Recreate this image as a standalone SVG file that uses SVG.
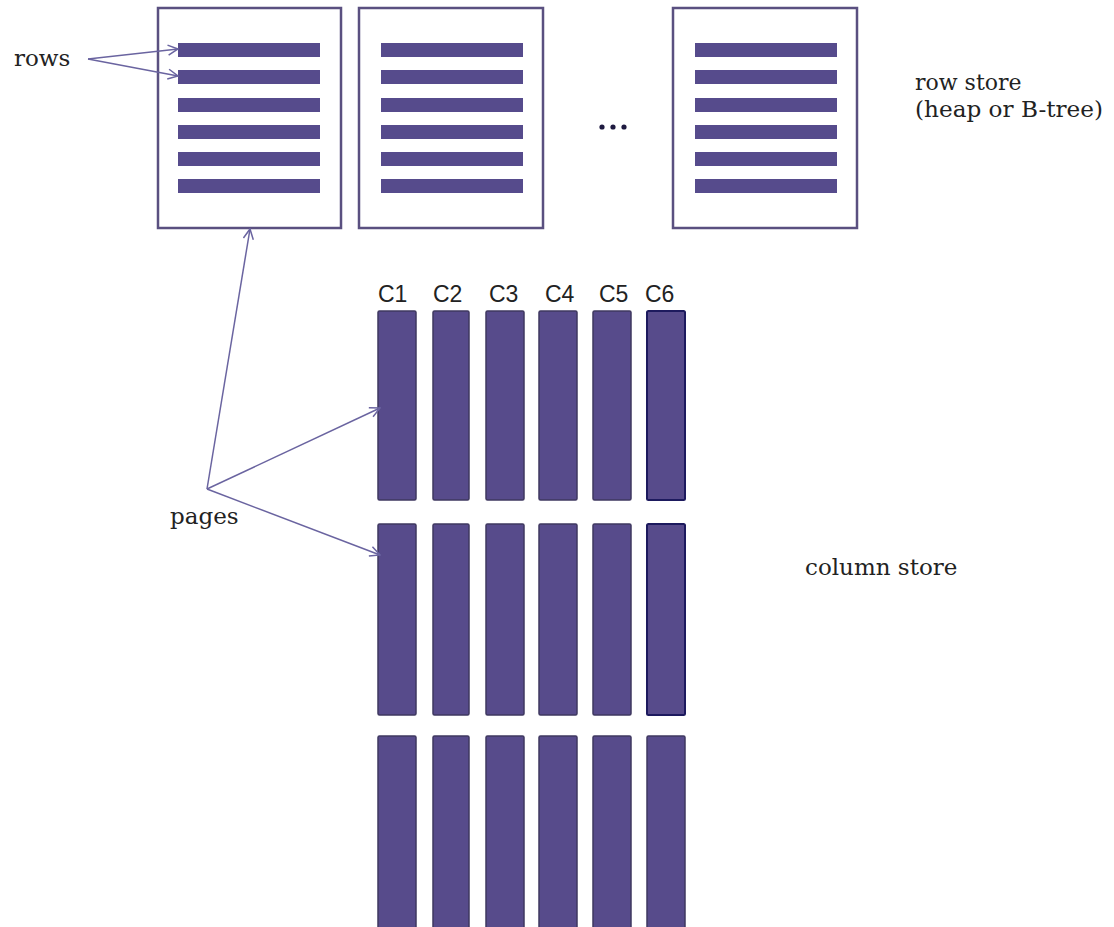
<svg xmlns="http://www.w3.org/2000/svg" width="1114" height="927" viewBox="0 0 1114 927">
<defs>
<style>
.page{fill:#fff;stroke:#5a5080;stroke-width:2.5}
.row{fill:#564b8c}
.col{fill:#574b8b;stroke:#3f3860;stroke-width:1.5}
.col6{fill:#574b8b;stroke:#1d1a5e;stroke-width:2}
.lbl{font-family:"DejaVu Serif",serif;font-size:23px;fill:#222}
.clbl{font-family:"Liberation Sans",Arial,sans-serif;font-size:23px;fill:#222}
.arr{fill:none;stroke:#6a64a0;stroke-width:1.5;marker-end:url(#chev)}
</style>
<marker id="chev" markerWidth="12" markerHeight="12" refX="11" refY="6" orient="auto" markerUnits="userSpaceOnUse">
<path d="M1,1 L11,6 L1,11" fill="none" stroke="#6a64a0" stroke-width="1.5"/>
</marker>
<g id="rowbars">
<rect class="row" x="0" y="43" width="142" height="14"/>
<rect class="row" x="0" y="70" width="142" height="14"/>
<rect class="row" x="0" y="98" width="142" height="14"/>
<rect class="row" x="0" y="125" width="142" height="14"/>
<rect class="row" x="0" y="152" width="142" height="14"/>
<rect class="row" x="0" y="179" width="142" height="14"/>
</g>
</defs>
<rect width="1114" height="927" fill="#fff"/>

<g id="page1">
<rect class="page" x="158" y="8" width="183" height="220"/>
<use href="#rowbars" x="178"/>
</g>
<g id="page2">
<rect class="page" x="359" y="8" width="184" height="220"/>
<use href="#rowbars" x="381"/>
</g>
<g id="ellipsis">
<circle cx="602" cy="127" r="2.6" fill="#1e1a40"/>
<circle cx="613" cy="127" r="2.6" fill="#1e1a40"/>
<circle cx="624" cy="127" r="2.6" fill="#1e1a40"/>
</g>
<g id="page3">
<rect class="page" x="673" y="8" width="184" height="220"/>
<use href="#rowbars" x="695"/>
</g>

<g id="row-store-label">
<text class="lbl" x="915" y="90" style="font-size:22px">row store</text>
<text class="lbl" x="915" y="117" style="font-size:22px" textLength="188" lengthAdjust="spacingAndGlyphs">(heap or B-tree)</text>
</g>
<g id="rows-label"><text class="lbl" x="14" y="66">rows</text></g>
<g id="pages-label"><text class="lbl" x="170" y="524">pages</text></g>
<g id="column-store-label"><text class="lbl" x="805" y="575">column store</text></g>

<g id="col-labels">
<text class="clbl" x="378" y="302">C1</text>
<text class="clbl" x="433" y="302">C2</text>
<text class="clbl" x="489" y="302">C3</text>
<text class="clbl" x="545" y="302">C4</text>
<text class="clbl" x="599" y="302">C5</text>
<text class="clbl" x="645" y="302">C6</text>
</g>

<g id="colpage1">
<rect class="col" x="378" y="311" width="38" height="189" rx="1.5"/>
<rect class="col" x="433" y="311" width="36" height="189" rx="1.5"/>
<rect class="col" x="486" y="311" width="38" height="189" rx="1.5"/>
<rect class="col" x="539" y="311" width="38" height="189" rx="1.5"/>
<rect class="col" x="593" y="311" width="38" height="189" rx="1.5"/>
<rect class="col6" x="647" y="311" width="38" height="189" rx="1.5"/>
</g>
<g id="colpage2">
<rect class="col" x="378" y="524" width="38" height="191" rx="1.5"/>
<rect class="col" x="433" y="524" width="36" height="191" rx="1.5"/>
<rect class="col" x="486" y="524" width="38" height="191" rx="1.5"/>
<rect class="col" x="539" y="524" width="38" height="191" rx="1.5"/>
<rect class="col" x="593" y="524" width="38" height="191" rx="1.5"/>
<rect class="col6" x="647" y="524" width="38" height="191" rx="1.5"/>
</g>
<g id="colpage3">
<rect class="col" x="378" y="736" width="38" height="200" rx="1.5"/>
<rect class="col" x="433" y="736" width="36" height="200" rx="1.5"/>
<rect class="col" x="486" y="736" width="38" height="200" rx="1.5"/>
<rect class="col" x="539" y="736" width="38" height="200" rx="1.5"/>
<rect class="col" x="593" y="736" width="38" height="200" rx="1.5"/>
<rect class="col" x="647" y="736" width="38" height="200" rx="1.5"/>
</g>

<g id="connectors">
<line class="arr" x1="88" y1="59" x2="178" y2="49"/>
<line class="arr" x1="88" y1="59" x2="178" y2="76"/>
<line class="arr" x1="207" y1="489" x2="250" y2="229"/>
<line class="arr" x1="207" y1="489" x2="380" y2="408"/>
<line class="arr" x1="207" y1="489" x2="380" y2="555"/>
</g>
</svg>
